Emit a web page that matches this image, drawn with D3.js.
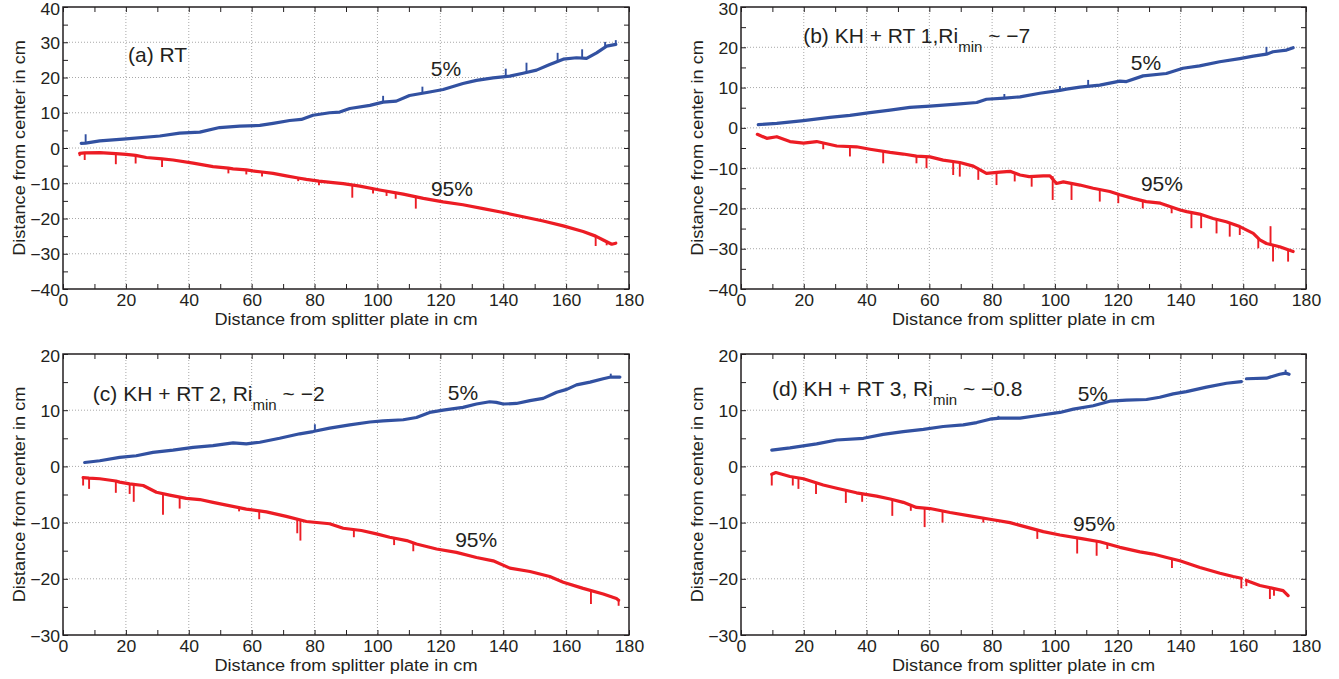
<!DOCTYPE html>
<html>
<head>
<meta charset="utf-8">
<script src="https://cdn.jsdelivr.net/npm/d3@7"></script>
<style>
body { margin: 0; background: #fff; }
svg text { font-family: "Liberation Sans", Arial, Helvetica, sans-serif; fill: #231f20; white-space: pre; }
</style>
</head>
<body>
<svg id="fig" width="1339" height="679"></svg>
<script>
// tick values
var xMajor = [0, 20, 40, 60, 80, 100, 120, 140, 160, 180];
var xMinor = [10, 30, 50, 70, 90, 110, 130, 150, 170];
var yMajorA = [-40, -30, -20, -10, 0, 10, 20, 30, 40];
var yMajorB = [-40, -30, -20, -10, 0, 10, 20, 30];
var yMajorCD = [-30, -20, -10, 0, 10, 20];

// (a) RT : [x, y], spikes as [x, base, tip]
var aBlue = [[5.8,1.3],[7.2,1.4],[11.7,2.0],[20.1,2.6],[30.8,3.4],[37.1,4.2],[43.5,4.5],[49.8,5.8],[56.2,6.2],[62.6,6.4],[66.8,7.0],[72.1,7.8],[75.8,8.1],[79.5,9.3],[84.8,10.0],[88,10.2],[91.2,11.2],[97.6,12.1],[101.8,13.0],[106,13.3],[110.2,14.9],[116.6,15.9],[120.9,16.6],[127.2,18.3],[131.5,19.2],[136.8,19.9],[142.1,20.4],[146.3,21.2],[150.6,22.1],[154.8,23.7],[159.1,25.2],[163.3,25.6],[166.5,25.4],[169.7,27.0],[172.9,28.9],[175.8,29.4]];
var aBlueSpikes = [[7.2,1.4,3.9],[101.8,13.0,14.8],[114.3,15.5,17.4],[140.8,20.2,22.5],[147.4,21.3,24.2],[157.3,24.5,27.0],[165.1,25.5,28.0],[172.4,28.5,30.1],[175.8,29.4,30.6]];
var aRed = [[5.3,-1.5],[6.9,-1.4],[11.7,-1.3],[16.8,-1.6],[20.1,-1.8],[23.1,-2.1],[26.5,-2.7],[31.5,-3.1],[35,-3.4],[41.4,-4.3],[47.7,-5.3],[52.6,-5.7],[54.1,-5.9],[58.3,-6.2],[60.4,-6.5],[63.3,-6.8],[66.8,-7.2],[71.0,-7.9],[74.8,-8.5],[77.4,-8.9],[81.4,-9.4],[85.9,-9.8],[89.1,-10.1],[94.4,-10.8],[100.7,-11.9],[108.2,-13.1],[114.6,-14.3],[120.9,-15.3],[127.2,-16.1],[133.6,-17.2],[140,-18.3],[146.3,-19.5],[152.7,-20.7],[159.1,-22.1],[165.4,-23.7],[169.4,-25.0],[171.8,-26.1],[174.5,-27.3],[175.8,-27.0]];
var aRedSpikes = [[5.3,-1.5,-2.3],[6.9,-1.4,-3.4],[16.8,-1.6,-4.6],[23.1,-2.1,-4.4],[31.5,-3.1,-5.4],[52.6,-5.7,-7.2],[58.3,-6.2,-7.5],[63.3,-6.8,-8.1],[74.8,-8.5,-9.4],[81.4,-9.4,-10.6],[92.0,-10.5,-14.1],[98.6,-11.5,-12.9],[102.9,-12.1,-13.6],[105.8,-12.6,-14.4],[112.2,-13.8,-17.2],[169.4,-25.0,-27.8],[172.9,-26.6,-27.6]];

// (b) KH + RT 1
var bBlue = [[5.5,0.8],[11.4,1.1],[19.9,1.8],[28.3,2.6],[34.7,3.1],[41.1,3.8],[47.5,4.4],[53.8,5.1],[60.2,5.4],[68.7,5.9],[75.1,6.3],[78.2,7.1],[83.9,7.4],[88.9,7.7],[95.2,8.6],[101.6,9.3],[103.7,9.6],[108,10.1],[114.3,10.6],[120.7,11.6],[122.8,11.5],[128.1,12.9],[135.5,13.5],[140.8,14.8],[146.1,15.4],[152.5,16.4],[158.9,17.2],[163.2,17.8],[167.4,18.3],[169.5,18.9],[173.8,19.3],[175.9,19.9]];
var bBlueSpikes = [[83.9,7.4,8.4],[101.6,9.3,10.4],[110.6,10.3,11.9],[167.4,18.3,20.1]];
var bRed = [[5.2,-1.6],[8.2,-2.6],[11.4,-2.2],[15.6,-3.4],[19.9,-3.8],[24.1,-3.4],[30.5,-4.5],[36.8,-4.7],[41.1,-5.3],[47.5,-6.1],[51.7,-6.5],[55.9,-7.0],[60.2,-7.2],[64.4,-8.0],[69.7,-8.6],[74.0,-9.5],[78.2,-11.3],[82.5,-11.0],[85.7,-10.8],[88.9,-11.7],[91.8,-12.1],[96.3,-11.9],[98.4,-11.9],[100.5,-13.8],[102.7,-13.4],[108,-14.2],[112.2,-15.0],[117.5,-15.8],[120.7,-16.6],[124.9,-17.5],[129.1,-18.3],[133.6,-18.7],[139.9,-20.4],[142.0,-20.8],[146.1,-21.4],[150.4,-22.5],[154.6,-23.3],[158.9,-24.5],[163.2,-26.2],[165.3,-27.8],[167.4,-28.7],[171.6,-29.5],[175.9,-30.7]];
var bRedSpikes = [[26.2,-4.0,-5.3],[34.7,-4.6,-7.1],[45.3,-5.8,-8.8],[55.9,-7.0,-8.8],[59.1,-7.1,-10.0],[67.6,-8.3,-11.7],[69.7,-8.6,-12.1],[75.6,-10.0,-12.9],[81.4,-11.2,-14.2],[87.2,-11.5,-13.3],[92.6,-12.0,-14.6],[99.3,-12.0,-17.9],[105.3,-13.8,-17.9],[114.3,-15.2,-18.3],[120.2,-16.4,-18.7],[128.0,-18.0,-20.0],[137.2,-19.5,-21.2],[143.5,-20.9,-24.9],[146.6,-21.5,-24.9],[151.5,-22.7,-26.2],[155.7,-23.5,-27.0],[158.9,-24.5,-26.6],[164.8,-27.4,-29.9],[168.7,-28.9,-24.4],[169.5,-29.0,-33.2],[174.3,-30.3,-33.2]];

// (c) KH + RT 2
var cBlue = [[6.9,0.7],[11.7,1.0],[18.0,1.6],[23.3,1.9],[28.6,2.5],[35.0,2.9],[41.4,3.4],[47.7,3.7],[54.1,4.2],[58.3,4.0],[62.6,4.3],[68.9,5.0],[75.3,5.8],[79.5,6.2],[84.8,6.8],[91.2,7.4],[97.6,7.9],[101.8,8.1],[108.2,8.3],[112.4,8.7],[116.6,9.6],[120.9,10.0],[127.2,10.5],[131.5,11.1],[135.7,11.5],[137.8,11.4],[140.0,11.1],[144.2,11.2],[148.5,11.7],[152.7,12.1],[157.0,13.2],[160.2,13.7],[163.3,14.5],[167.6,15.0],[171.8,15.6],[174.2,15.9],[177.1,15.9]];
var cBlueSpikes = [[80.1,6.3,7.5],[174.2,15.9,16.5]];
var cRed = [[6.4,-2.0],[8.3,-2.1],[11.7,-2.2],[16.8,-2.6],[18.0,-2.8],[21.2,-3.1],[25.5,-3.4],[29.7,-4.6],[33.9,-5.1],[39.2,-5.7],[43.5,-5.9],[47.7,-6.4],[52.0,-6.9],[58.3,-7.6],[64.7,-8.1],[71.0,-8.9],[77.4,-9.8],[84.8,-10.2],[89.1,-11.0],[94.9,-11.4],[99.7,-12.0],[103.9,-12.6],[109.3,-13.2],[112.4,-13.8],[118.8,-14.7],[125.1,-15.3],[131.5,-16.2],[136.8,-16.8],[142.1,-18.1],[148.5,-18.7],[154.8,-19.6],[159.1,-20.6],[165.4,-21.7],[171.8,-22.7],[176.0,-23.5],[176.7,-23.8]];
var cRedSpikes = [[6.4,-2.0,-3.4],[8.3,-2.1,-4.0],[16.8,-2.6,-4.7],[21.2,-3.1,-4.9],[22.5,-3.2,-6.3],[31.8,-4.9,-8.6],[37.1,-5.4,-7.5],[56.0,-7.3,-8.0],[62.4,-7.9,-9.4],[74.5,-9.5,-11.9],[75.5,-9.6,-13.2],[92.5,-11.2,-12.6],[105.3,-12.8,-14.0],[111.4,-13.6,-15.1],[167.9,-22.1,-24.5],[176.7,-23.8,-24.8]];

// (d) KH + RT 3 (null = gap in the record)
var dBlue = [[9.8,2.9],[15.6,3.3],[24.1,4.0],[30.5,4.7],[39.0,5.0],[45.3,5.7],[51.7,6.2],[58.1,6.6],[64.4,7.1],[70.8,7.4],[75.1,7.8],[79.3,8.4],[82.5,8.6],[88.9,8.6],[95.2,9.1],[101.6,9.6],[105.9,10.2],[112.2,10.8],[117.5,11.6],[122.8,11.8],[129.2,11.9],[133.4,12.3],[137.7,12.9],[141.9,13.3],[148.3,14.1],[154.7,14.8],[159.4,15.1],[160.2,null],[161.0,15.6],[167.4,15.7],[171.6,16.4],[173.5,16.6],[174.6,16.4]];
var dBlueSpikes = [[82.0,8.5,9.0],[173.5,16.6,17.2]];
var dRed = [[9.8,-1.4],[11.1,-1.1],[15.6,-1.8],[19.9,-2.2],[26.2,-3.3],[30.5,-3.9],[36.8,-4.7],[43.2,-5.3],[47.5,-5.8],[51.7,-6.4],[55.9,-7.3],[60.2,-7.5],[66.6,-8.2],[72.9,-8.8],[79.3,-9.4],[85.7,-10.0],[88.9,-10.5],[96.3,-11.6],[101.6,-12.2],[109.0,-12.9],[114.3,-13.4],[120.7,-14.4],[127.1,-15.2],[131.3,-15.6],[135.6,-16.2],[139.8,-16.8],[146.2,-18.0],[152.6,-19.0],[156.8,-19.6],[159.4,-19.9],[160.2,null],[161.0,-20.3],[165.3,-21.2],[169.5,-21.7],[172.7,-22.1],[174.3,-23.0]];
var dRedSpikes = [[9.8,-1.4,-3.4],[16.5,-1.9,-3.4],[18.3,-2.0,-4.0],[23.9,-2.9,-4.9],[33.4,-4.3,-6.5],[38.6,-5.0,-6.3],[48.2,-5.9,-8.8],[54.1,-6.9,-7.9],[58.5,-7.4,-10.8],[64.2,-8.0,-10.0],[77.2,-9.2,-10.0],[94.4,-11.3,-12.9],[107.1,-12.8,-15.5],[113.3,-13.3,-15.9],[116.7,-13.8,-14.7],[137.3,-16.5,-18.1],[159.4,-19.9,-21.7],[161.0,-20.0,-21.3],[168.5,-21.6,-23.6],[169.8,-21.8,-23.0]];

var xTitle = "Distance from splitter plate in cm";
var yTitle = "Distance from center in cm";

var BLUE = "#3251a1", RED = "#ec1c24";
var SX = 1.1;   // axis text in the figure is a bit wider than it is tall

var panels = [
  {left: 63, right: 629, top: 7, bottom: 289, ydom: [-40, 40], yMajor: yMajorA,
   blue: aBlue, blueSp: aBlueSpikes, red: aRed, redSp: aRedSpikes,
   title: {at: [20.7, 26.4], main: "(a) RT"},
   p5: [121.8, 22.4], p95: [123.7, -11.6]},
  {left: 741, right: 1306, top: 7, bottom: 289, ydom: [-40, 30], yMajor: yMajorB,
   blue: bBlue, blueSp: bBlueSpikes, red: bRed, redSp: bRedSpikes,
   title: {at: [19.8, 22.8], main: "(b) KH + RT 1,Ri", sub: "min", tail: " ~ \u22127"},
   p5: [129.0, 16.3], p95: [134.1, -13.9]},
  {left: 63, right: 629, top: 354, bottom: 635, ydom: [-30, 20], yMajor: yMajorCD,
   blue: cBlue, blueSp: cBlueSpikes, red: cRed, redSp: cRedSpikes,
   title: {at: [9.5, 12.9], main: "(c) KH + RT 2, Ri", sub: "min", tail: " ~ \u22122"},
   p5: [127.2, 13.1], p95: [131.4, -13.1]},
  {left: 741, right: 1306, top: 354, bottom: 635, ydom: [-30, 20], yMajor: yMajorCD,
   blue: dBlue, blueSp: dBlueSpikes, red: dRed, redSp: dRedSpikes,
   title: {at: [9.9, 13.8], main: "(d) KH + RT 3, Ri", sub: "min", tail: " ~ \u22120.8"},
   p5: [112.1, 12.9], p95: [112.5, -10.2]}
];

var svg = d3.select("#fig");

panels.forEach(function(p){
    var x = d3.scaleLinear().domain([0, 180]).range([p.left, p.right]);
    var y = d3.scaleLinear().domain(p.ydom).range([p.bottom, p.top]);
    var yMinor = p.yMajor.slice(0, -1).map(function(v){ return v + 5; });
    var g = svg.append("g");

    // dotted grid at major ticks
    g.selectAll(".gx").data(xMajor.slice(1, -1)).enter().append("line")
	.attr("x1", function(d){ return x(d); }).attr("x2", function(d){ return x(d); })
	.attr("y1", p.top).attr("y2", p.bottom)
	.attr("stroke", "#a8a8a8").attr("stroke-width", 1).attr("stroke-dasharray", "1,2");
    g.selectAll(".gy").data(p.yMajor.slice(1, -1)).enter().append("line")
	.attr("y1", function(d){ return y(d); }).attr("y2", function(d){ return y(d); })
	.attr("x1", p.left).attr("x2", p.right)
	.attr("stroke", "#a8a8a8").attr("stroke-width", 1).attr("stroke-dasharray", "1,2");

    var line = d3.line()
	.defined(function(d){ return d[1] !== null; })
	.x(function(d){ return x(d[0]); })
	.y(function(d){ return y(d[1]); });

    [[p.red, p.redSp, RED], [p.blue, p.blueSp, BLUE]].forEach(function(s){
	g.append("path").datum(s[0]).attr("d", line)
	    .attr("fill", "none").attr("stroke", s[2]).attr("stroke-width", 3.2)
	    .attr("stroke-linejoin", "round").attr("stroke-linecap", "round");
	g.selectAll(null).data(s[1]).enter().append("line")
	    .attr("x1", function(d){ return x(d[0]); }).attr("x2", function(d){ return x(d[0]); })
	    .attr("y1", function(d){ return y(d[1]); }).attr("y2", function(d){ return y(d[2]); })
	    .attr("stroke", s[2]).attr("stroke-width", 1.9);
    });

    // axes, ticks pointing inward on all four sides
    var fmt = d3.format("d");
    function ax(gen, tr, vals, labels){
	var a = g.append("g").attr("transform", tr)
	    .call(gen.tickValues(vals).tickSize(-5).tickPadding(labels ? 6 : 0)
		  .tickFormat(labels ? fmt : ""));
	a.select(".domain").remove();
	a.selectAll("line").attr("stroke", "#231f20").attr("stroke-width", 1);
	a.selectAll("text").attr("font-size", 16).attr("fill", "#231f20")
	    .attr("transform", "scale(" + SX + ",1)");
	return a;
    }
    ax(d3.axisBottom(x), "translate(0," + p.bottom + ")", xMajor, true);
    ax(d3.axisBottom(x), "translate(0," + p.bottom + ")", xMinor, false);
    ax(d3.axisTop(x), "translate(0," + p.top + ")", xMajor.concat(xMinor), false);
    var yl = ax(d3.axisLeft(y), "translate(" + p.left + ",0)", p.yMajor, true);
    var yTop = p.yMajor[p.yMajor.length - 1];
    // the top label sits right at the figure edge; nudge it down so it stays inside
    yl.selectAll("text").attr("x", -3 / SX)
	.attr("y", function(d){ return d === yTop ? 2.6 : 1; });
    ax(d3.axisLeft(y), "translate(" + p.left + ",0)", yMinor, false);
    ax(d3.axisRight(y), "translate(" + p.right + ",0)", p.yMajor.concat(yMinor), false);

    g.append("rect").attr("x", p.left).attr("y", p.top)
	.attr("width", p.right - p.left).attr("height", p.bottom - p.top)
	.attr("fill", "none").attr("stroke", "#231f20").attr("stroke-width", 1.5);

    // axis titles
    g.append("text")
	.attr("transform", "translate(" + ((p.left + p.right) / 2) + "," + (p.bottom + 30) + ") scale(" + SX + ",1)")
	.attr("dy", "0.35em").attr("text-anchor", "middle").attr("font-size", 16.5).text(xTitle);
    g.append("text")
	.attr("transform", "translate(" + (p.left - 44) + "," + ((p.top + p.bottom) / 2) + ") rotate(-90) scale(" + SX + ",1)")
	.attr("dy", "0.35em").attr("text-anchor", "middle").attr("font-size", 16.5).text(yTitle);

    // panel label
    var t = g.append("text").attr("x", x(p.title.at[0])).attr("y", y(p.title.at[1]))
	.attr("dy", "0.35em").attr("font-size", 21);
    t.append("tspan").text(p.title.main);
    if (p.title.sub){
	t.append("tspan").attr("font-size", 15).attr("dy", 9).text(p.title.sub);
	t.append("tspan").attr("dy", -9).text(p.title.tail);
    }

    // percentile labels
    [["5%", p.p5], ["95%", p.p95]].forEach(function(l){
	g.append("text").attr("x", x(l[1][0])).attr("y", y(l[1][1]))
	    .attr("dy", "0.35em").attr("text-anchor", "middle").attr("font-size", 21).text(l[0]);
    });
});
</script>
</body>
</html>
